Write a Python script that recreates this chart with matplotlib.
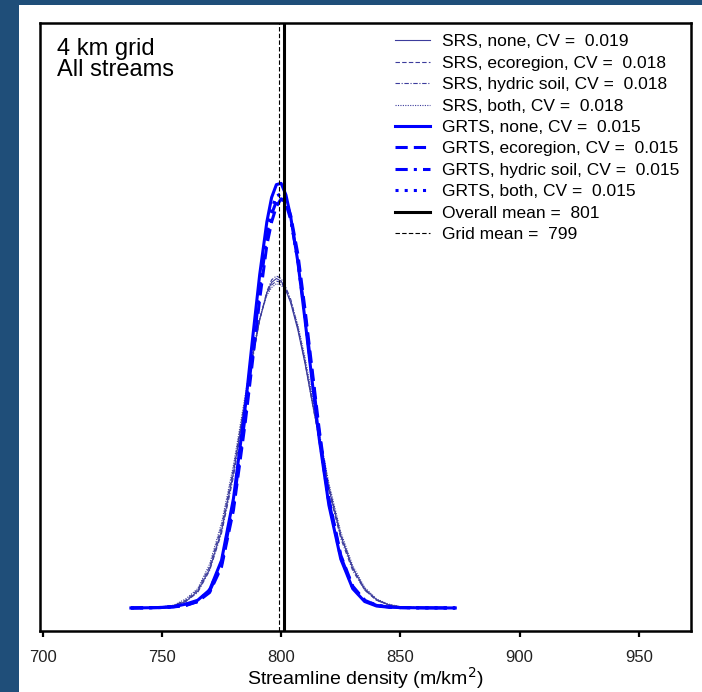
import matplotlib.pyplot as plt
from matplotlib.patches import Rectangle

plt.rcParams['font.family'] = ['Liberation Sans', 'DejaVu Sans']

# density curves (x in m/km2, y = density)
x_pts = [737, 745, 750, 755, 760, 765, 770, 775, 780, 785, 788, 791, 794, 796, 798, 800,
         802, 804, 807, 810, 813, 816, 820, 825, 830, 835, 840, 845, 850, 860, 873]

srs_none = [0, 0.00001, 0.00005, 0.00016, 0.0005, 0.0013, 0.0030, 0.0060, 0.0105, 0.0161, 0.0195, 0.0224,
            0.0245, 0.0253, 0.0256, 0.0254, 0.0247, 0.0237, 0.0216, 0.0190, 0.0160, 0.0131, 0.0093, 0.0056,
            0.0031, 0.0015, 0.00065, 0.00025, 0.00009, 0.00001, 0]
srs_eco = [0, 0.00002, 0.00006, 0.0002, 0.0006, 0.0014, 0.0032, 0.0063, 0.0108, 0.0163, 0.0196, 0.0224,
           0.0244, 0.0251, 0.0254, 0.0253, 0.0247, 0.0238, 0.0218, 0.0192, 0.0162, 0.0133, 0.0095, 0.0057,
           0.0031, 0.0014, 0.0006, 0.00025, 0.00008, 0.00001, 0]
srs_hyd = [0, 0.00002, 0.00005, 0.00018, 0.0005, 0.0012, 0.0029, 0.0058, 0.0102, 0.0158, 0.0193, 0.0224,
           0.0246, 0.0255, 0.0258, 0.0256, 0.0249, 0.0240, 0.0218, 0.0191, 0.0160, 0.0130, 0.0091, 0.0054,
           0.0029, 0.0014, 0.0006, 0.00022, 0.00008, 0.00001, 0]
srs_both = [0, 0.00003, 0.00008, 0.00022, 0.0007, 0.0015, 0.0034, 0.0066, 0.0111, 0.0166, 0.0198, 0.0225,
            0.0243, 0.0249, 0.0252, 0.0251, 0.0246, 0.0239, 0.0220, 0.0195, 0.0165, 0.0136, 0.0097, 0.0059,
            0.0033, 0.0016, 0.0007, 0.0003, 0.0001, 0.00002, 0]

grts_none = [0, 0.00002, 0.00004, 0.0001, 0.0003, 0.0006, 0.0014, 0.0037, 0.0085, 0.0157, 0.0209, 0.0259,
             0.0300, 0.0319, 0.0329, 0.0330, 0.0321, 0.0304, 0.0269, 0.0224, 0.0176, 0.0131, 0.0080, 0.0038,
             0.0015, 0.0005, 0.00015, 0.00006, 0.00003, 0.00001, 0]
grts_eco = [0, 0.00002, 0.00003, 0.00008, 0.0002, 0.0005, 0.0012, 0.0032, 0.0076, 0.0145, 0.0192, 0.0240,
            0.0282, 0.0300, 0.0312, 0.0318, 0.0316, 0.0305, 0.0275, 0.0232, 0.0185, 0.0138, 0.0085, 0.0041,
            0.0017, 0.0006, 0.0002, 0.00008, 0.00003, 0.00001, 0]
grts_hyd = [0, 0.00002, 0.00004, 0.0001, 0.0002, 0.0005, 0.0013, 0.0034, 0.0080, 0.0150, 0.0198, 0.0247,
            0.0288, 0.0306, 0.0316, 0.0318, 0.0314, 0.0302, 0.0270, 0.0228, 0.0181, 0.0135, 0.0083, 0.0040,
            0.0016, 0.0006, 0.0002, 0.00008, 0.00003, 0.00001, 0]
grts_both = [0, 0.00002, 0.00004, 0.0001, 0.0003, 0.0005, 0.0014, 0.0035, 0.0082, 0.0153, 0.0202, 0.0251,
             0.0292, 0.0310, 0.0320, 0.0322, 0.0317, 0.0303, 0.0270, 0.0226, 0.0179, 0.0133, 0.0082, 0.0039,
             0.0016, 0.0006, 0.0002, 0.00008, 0.00003, 0.00001, 0]

srs_labels = ["SRS, none, CV =  0.019", "SRS, ecoregion, CV =  0.018",
              "SRS, hydric soil, CV =  0.018", "SRS, both, CV =  0.018"]
grts_labels = ["GRTS, none, CV =  0.015", "GRTS, ecoregion, CV =  0.015",
               "GRTS, hydric soil, CV =  0.015", "GRTS, both, CV =  0.015"]
overall_mean = 801
grid_mean = 799
xticks = [700, 750, 800, 850, 900, 950]

fig = plt.figure(figsize=(7.02, 6.92), dpi=100, facecolor="#1f4e79")
fig.patches.append(Rectangle((19 / 702, 0), 1, 687 / 692, transform=fig.transFigure,
                             facecolor="white", edgecolor="none", zorder=-10))
ax = fig.add_axes([40 / 702, 61 / 692, 650.7 / 702, 608 / 692])
ax.set_facecolor("none")

srs = [srs_none, srs_eco, srs_hyd, srs_both]
grts = [grts_none, grts_eco, grts_hyd, grts_both]
srs_styles = ["-", (0, (4, 2)), (0, (4, 1.5, 1, 1.5)), (0, (1, 1.2))]
grts_styles = ["-", (0, (4, 2)), (0, (4, 2, 1, 2)), (0, (1, 2))]
for y, ls, lab in zip(srs, srs_styles, srs_labels):
    ax.plot(x_pts, y, color="#3c3c9c", lw=0.8, ls=ls, label=lab)
for y, ls, lab in zip(grts, grts_styles, grts_labels):
    ax.plot(x_pts, y, color="#0000ff", lw=2.2, ls=ls, label=lab,
            solid_joinstyle="round", dash_joinstyle="round")

ax.axvline(overall_mean, color="black", lw=2.2, label="Overall mean =  %d" % overall_mean)
ax.axvline(grid_mean, color="black", lw=0.8, ls=(0, (4, 2)), label="Grid mean =  %d" % grid_mean)

ax.set_xlim(698.9, 971.7)
ax.set_ylim(-0.00179, 0.04546)
ax.set_xticks(xticks)
ax.set_yticks([])
ax.tick_params(axis="x", direction="out", length=4, width=1.6, pad=10, labelsize=12, labelcolor="#222222")
for s in ax.spines.values():
    s.set_linewidth(1.8)

ax.set_xlabel("Streamline density (m/km$^2$)", fontsize=14, labelpad=0)

ax.text(0.026, 0.975, "4 km grid\nAll streams", transform=ax.transAxes, fontsize=17,
        va="top", ha="left", linespacing=0.95)

ax.legend(loc="upper right", frameon=False, fontsize=12.5, handlelength=2.0,
          labelspacing=0.36, handletextpad=0.7, borderaxespad=0.25)

fig.savefig("out.png", dpi=100, facecolor=fig.get_facecolor())
